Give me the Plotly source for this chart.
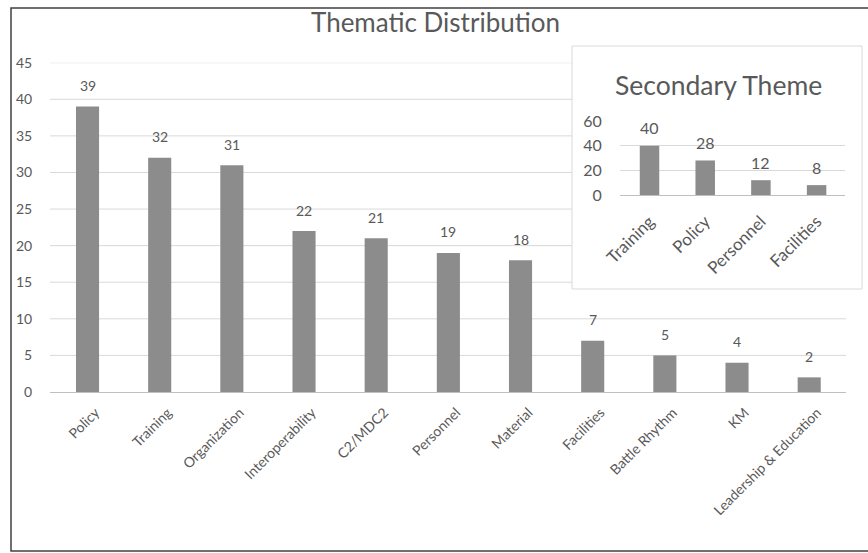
import plotly.graph_objects as go

# ---- data ----
main_categories = ["Policy", "Training", "Organization", "Interoperability", "C2/MDC2",
                   "Personnel", "Material", "Facilities", "Battle Rhythm", "KM",
                   "Leadership & Education"]
main_values = [39, 32, 31, 22, 21, 19, 18, 7, 5, 4, 2]
main_ticks = [0, 5, 10, 15, 20, 25, 30, 35, 40, 45]

inset_categories = ["Training", "Policy", "Personnel", "Facilities"]
inset_values = [40, 28, 12, 8]
inset_ticks = [0, 20, 40, 60]

W, H = 868, 553
FONT = "Lato, Open Sans, sans-serif"
TXT = "#595959"
BAR = "#8c8c8c"
GRID = "#d9d9d9"
AXIS = "#bfbfbf"

def px(x):
    return x / W

def py(y):
    return 1 - y / H

fig = go.Figure()

fig.add_trace(go.Bar(x=main_categories, y=main_values, marker=dict(color=BAR, line_width=0),
                     width=0.32, xaxis="x", yaxis="y", hoverinfo="x+y"))
fig.add_trace(go.Bar(x=inset_categories, y=inset_values, marker=dict(color=BAR, line_width=0),
                     width=0.35, xaxis="x2", yaxis="y2", hoverinfo="x+y"))

annotations = []
for c, v in zip(main_categories, main_values):
    annotations.append(dict(x=c, y=v, xref="x", yref="y", text=str(v), showarrow=False,
                            yanchor="middle", yshift=21, font=dict(size=14, color=TXT, family=FONT)))
for c, v in zip(inset_categories, inset_values):
    annotations.append(dict(x=c, y=v, xref="x2", yref="y2", text=str(v), showarrow=False,
                            yanchor="middle", yshift=18, font=dict(size=16, color=TXT, family=FONT)))
annotations.append(dict(x=px(435), y=py(22), xref="paper", yref="paper", text="Thematic Distribution",
                        showarrow=False, xanchor="center", yanchor="middle",
                        font=dict(size=26, color=TXT, family=FONT)))
annotations.append(dict(x=px(718), y=py(85), xref="paper", yref="paper", text="Secondary Theme",
                        showarrow=False, xanchor="center", yanchor="middle",
                        font=dict(size=26.5, color=TXT, family=FONT)))

shapes = []
# main gridlines (drawn below everything, so the inset box can mask them)
for t in main_ticks[1:]:
    shapes.append(dict(type="line", xref="paper", yref="y", x0=px(50), x1=px(846), y0=t, y1=t,
                       line=dict(color=GRID, width=1), layer="below"))
# inset box
shapes.append(dict(type="rect", xref="paper", yref="paper", x0=px(572), x1=px(862),
                   y0=py(289), y1=py(46), fillcolor="white", line=dict(color=GRID, width=1),
                   layer="below"))
# outer border
shapes.append(dict(type="rect", xref="paper", yref="paper", x0=px(11), x1=1.02,
                   y0=py(551), y1=py(8), fillcolor="rgba(0,0,0,0)",
                   line=dict(color="#404040", width=1.5), layer="above"))

fig.update_layout(
    template="none",
    width=W, height=H, autosize=False,
    margin=dict(l=0, r=0, t=0, b=0, pad=0),
    paper_bgcolor="white", plot_bgcolor="rgba(0,0,0,0)",
    showlegend=False,
    font=dict(family=FONT, color=TXT),
    annotations=annotations,
    shapes=shapes,
    xaxis=dict(domain=[px(50), px(846)], range=[-0.52, 10.51], type="category",
               tickangle=-45, tickfont=dict(size=14, color=TXT, family=FONT),
               showline=True, linecolor=AXIS, linewidth=1, showgrid=False, zeroline=False,
               ticks="outside", ticklen=6, tickcolor="rgba(0,0,0,0)", automargin=False,
               ticklabelshift=8),
    yaxis=dict(domain=[py(392), py(62.7)], range=[0, 45], tickvals=main_ticks,
               showgrid=False, zeroline=False, showline=False,
               tickfont=dict(size=14, color=TXT, family=FONT),
               ticks="outside", ticklen=14, tickcolor="rgba(0,0,0,0)", automargin=False),
    xaxis2=dict(domain=[px(620), px(845)], range=[-0.53, 3.51], type="category",
                anchor="y2", tickangle=-45, tickfont=dict(size=17, color=TXT, family=FONT),
                showline=True, linecolor=AXIS, linewidth=1, showgrid=False, zeroline=False,
                ticks="outside", ticklen=9, tickcolor="rgba(0,0,0,0)", automargin=False),
    yaxis2=dict(domain=[py(195), py(121)], range=[0, 60], tickvals=inset_ticks, anchor="x2",
                showgrid=True, gridcolor=GRID, gridwidth=1, zeroline=False, showline=False,
                tickfont=dict(size=16, color=TXT, family=FONT),
                ticks="outside", ticklen=14, tickcolor="rgba(0,0,0,0)", automargin=False),
)

fig.write_html("out.html", config={"displayModeBar": False},
               post_script="document.body.style.margin='0';document.body.style.overflow='hidden';")
